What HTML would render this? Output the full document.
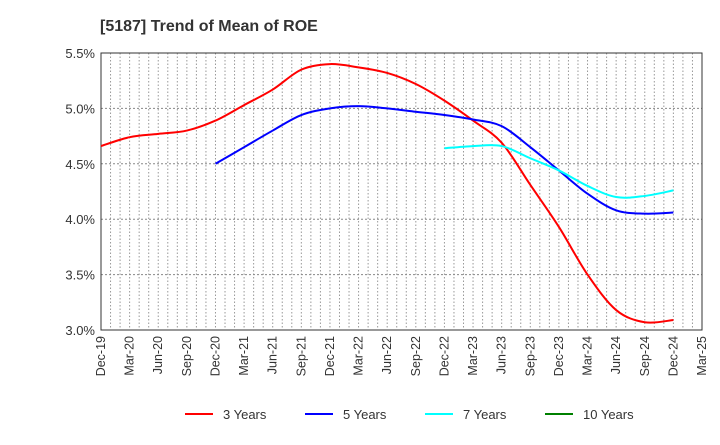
<!DOCTYPE html>
<html><head><meta charset="utf-8"><style>
body{margin:0;background:#fff;font-family:"Liberation Sans",sans-serif}
</style></head><body>
<svg id="chart" width="720" height="440" xmlns="http://www.w3.org/2000/svg" font-family="Liberation Sans, sans-serif">
<text x="100" y="31" font-size="16" font-weight="bold" fill="#333">[5187]  Trend of Mean of ROE</text>
<g id="grid"></g><g id="axes"></g><g id="series"></g>
<g id="legend"></g>
</svg>
<script>
const quarters=["Dec-19","Mar-20","Jun-20","Sep-20","Dec-20","Mar-21","Jun-21","Sep-21","Dec-21","Mar-22","Jun-22","Sep-22","Dec-22","Mar-23","Jun-23","Sep-23","Dec-23","Mar-24","Jun-24","Sep-24","Dec-24","Mar-25"];
const yTicks=[3.0,3.5,4.0,4.5,5.0,5.5];
const y3=[4.66,4.74,4.77,4.80,4.89,5.03,5.17,5.35,5.40,5.37,5.32,5.22,5.07,4.89,4.69,4.31,3.93,3.50,3.18,3.07,3.09];
const y5=[null,null,null,null,4.50,4.65,4.80,4.94,5.00,5.02,5.00,4.97,4.94,4.90,4.84,4.65,4.44,4.23,4.08,4.05,4.06];
const y7=[null,null,null,null,null,null,null,null,null,null,null,null,4.64,4.66,4.66,4.55,4.44,4.30,4.20,4.21,4.26];
const y10=[];
const L=101,R=702,T=53,B=330;
const xs=i=>L+i*(R-L)/(quarters.length-1);
const ys=v=>B-(v-3.0)/(5.5-3.0)*(B-T);
const NS="http://www.w3.org/2000/svg";
function mk(p,t,a){const e=document.createElementNS(NS,t);for(const k in a)e.setAttribute(k,a[k]);p.appendChild(e);return e;}
const grid=document.getElementById('grid'),axes=document.getElementById('axes'),ser=document.getElementById('series'),leg=document.getElementById('legend');
for(let m=1;m<(quarters.length-1)*3;m++){const x=L+m*(R-L)/((quarters.length-1)*3);
const g=mk(grid,'line',{x1:x,x2:x,y1:T,y2:B,stroke:'#999','stroke-dasharray':'1.5,2','stroke-width':1});

}
yTicks.forEach(v=>{const y=ys(v);
const g=mk(grid,'line',{x1:L,x2:R,y1:y,y2:y,stroke:'#888','stroke-dasharray':'2,2','stroke-width':1});


const t=mk(axes,'text',{x:L-6,y:y+5,'text-anchor':'end','font-size':13,fill:'#333'});t.textContent=v.toFixed(1)+'%';

});
const fr=mk(axes,'rect',{x:L,y:T,width:R-L,height:B-T,fill:'none',stroke:'#333','stroke-width':1});


quarters.forEach((q,i)=>{const x=xs(i);
const t=mk(axes,'text',{x:0,y:0,transform:`translate(${x+4},${B+6}) rotate(-90)`,'text-anchor':'end','font-size':12.5,fill:'#333'});t.textContent=q;

});
function path(arr){const p=[];arr.forEach((v,i)=>{if(v!=null)p.push([xs(i),ys(v)]);});if(p.length<2)return '';
let d=`M${p[0][0]},${p[0][1]}`;for(let i=0;i<p.length-1;i++){const p0=p[i-1]||p[i],p1=p[i],p2=p[i+1],p3=p[i+2]||p2;
d+=` C${p1[0]+(p2[0]-p0[0])/6},${p1[1]+(p2[1]-p0[1])/6} ${p2[0]-(p3[0]-p1[0])/6},${p2[1]-(p3[1]-p1[1])/6} ${p2[0]},${p2[1]}`;}return d;}
const series=[[y3,'#ff0000','3 Years','line-3-years'],[y5,'#0000ff','5 Years','line-5-years'],[y7,'#00ffff','7 Years','line-7-years'],[y10,'#008000','10 Years','line-10-years']];
series.forEach((s,k)=>{const d=path(s[0]);if(d){const e=mk(ser,'path',{d:d,fill:'none',stroke:s[1],'stroke-width':2});

}
const lx=[185,305,425,545][k];
const ln=mk(leg,'line',{x1:lx,x2:lx+28,y1:414,y2:414,stroke:s[1],'stroke-width':2});


const t=mk(leg,'text',{x:lx+38,y:419,'font-size':13,fill:'#333'});t.textContent=s[2];

});
</script>
</body></html>
